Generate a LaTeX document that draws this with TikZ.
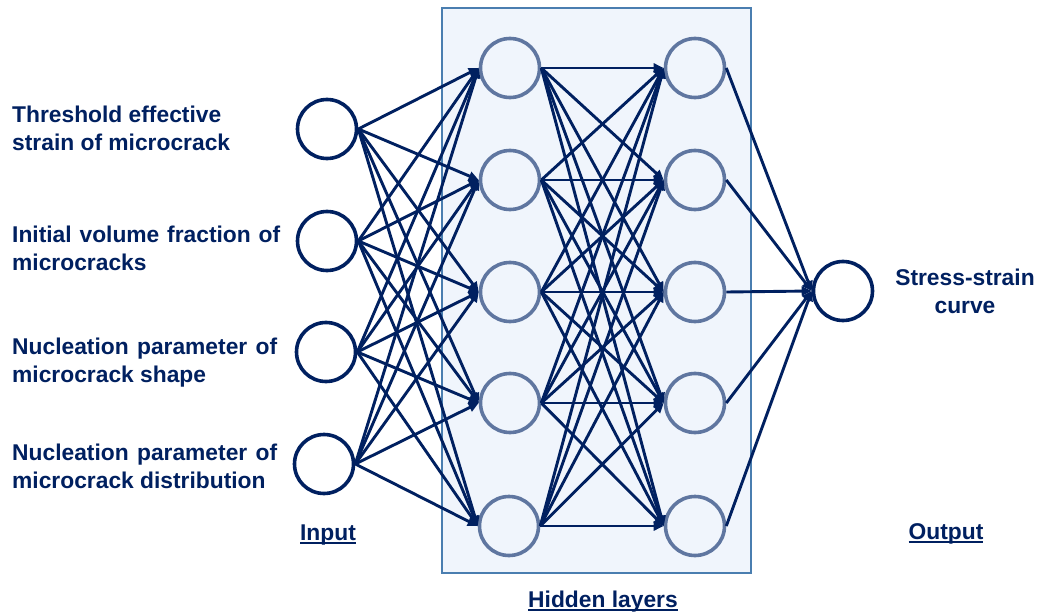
\documentclass[tikz,border=0pt]{standalone}
\usepackage{fontspec}
\setmainfont{Liberation Sans}
\usetikzlibrary{arrows.meta}
\definecolor{navy}{HTML}{002060}
\definecolor{hidcirc}{HTML}{5F76A0}
\definecolor{boxfill}{HTML}{F0F5FC}
\definecolor{boxline}{HTML}{4A7EB0}
\newcommand\ulbox[1]{\setbox0\hbox{#1}\rlap{\color{navy}\rule[-3.8pt]{\wd0}{1.8pt}}\box0}
\tikzset{
  inneuron/.style={circle,draw=navy,line width=3.6pt,minimum size=59pt,inner sep=0pt},
  hidneuron/.style={circle,draw=hidcirc,line width=3.6pt,minimum size=59pt,inner sep=0pt},
  lbl/.style={font=\fontsize{22.8}{28}\selectfont\bfseries,text=navy,inner sep=0pt},
  conn/.style={draw=navy,line width=2.9pt,-{Triangle[length=10pt,width=9pt]}},
  hidbox/.style={fill=boxfill,draw=boxline,line width=1.4pt}
}
\begin{document}
\begin{tikzpicture}[x=1pt,y=-1pt]
\useasboundingbox (0,0) rectangle (1037,615);
\fill[white] (0,0) rectangle (1037,615);
\draw[hidbox] (442,8) rectangle (751,573);
% input nodes
\node[inneuron] (i1) at (327,129) {};
\node[inneuron] (i2) at (327,241) {};
\node[inneuron] (i3) at (326,352) {};
\node[inneuron] (i4) at (324,464) {};
% hidden layer 1
\node[hidneuron] (a1) at (510,68) {};
\node[hidneuron] (a2) at (510,180) {};
\node[hidneuron] (a3) at (510,292) {};
\node[hidneuron] (a4) at (510,403) {};
\node[hidneuron] (a5) at (509,526) {};
% hidden layer 2
\node[hidneuron] (b1) at (695,68) {};
\node[hidneuron] (b2) at (695,180) {};
\node[hidneuron] (b3) at (695,292) {};
\node[hidneuron] (b4) at (695,403) {};
\node[hidneuron] (b5) at (695,526) {};
% output
\node[inneuron] (o) at (843,291) {};
% connections
\foreach \i in {1,...,4}{\foreach \j in {1,...,5}{\draw[conn] (i\i.east) -- (a\j.west);}}
\foreach \i in {1,...,5}{\foreach \j in {1,...,5}{\draw[conn] (a\i.east) -- (b\j.west);}}
\foreach \i in {1,...,5}{\draw[conn] (b\i.east) -- (o.west);}
% labels
\node[lbl,anchor=base west] (t1a) at (12,123) {Threshold effective};
\node[lbl,anchor=base west] (t1b) at (12,151) {strain of microcrack};
\node[lbl,anchor=base west] (t2a) at (12,242) {\makebox[268pt][s]{Initial volume fraction of}};
\node[lbl,anchor=base west] (t2b) at (12,270) {microcracks};
\node[lbl,anchor=base west] (t3a) at (12,354) {\makebox[265pt][s]{Nucleation parameter of}};
\node[lbl,anchor=base west] (t3b) at (12,382) {microcrack shape};
\node[lbl,anchor=base west] (t4a) at (12,460) {\makebox[265pt][s]{Nucleation parameter of}};
\node[lbl,anchor=base west] (t4b) at (12,488) {microcrack distribution};
\node[lbl,anchor=base] (s1) at (965,285) {Stress-strain};
\node[lbl,anchor=base] (s2) at (965,313) {curve};
\node[lbl,anchor=base] (inl) at (328,540) {\ulbox{Input}};
\node[lbl,anchor=base] (outl) at (946,539) {\ulbox{Output}};
\node[lbl,anchor=base] (hidl) at (603,607) {\ulbox{Hidden layers}};
\end{tikzpicture}
\end{document}
